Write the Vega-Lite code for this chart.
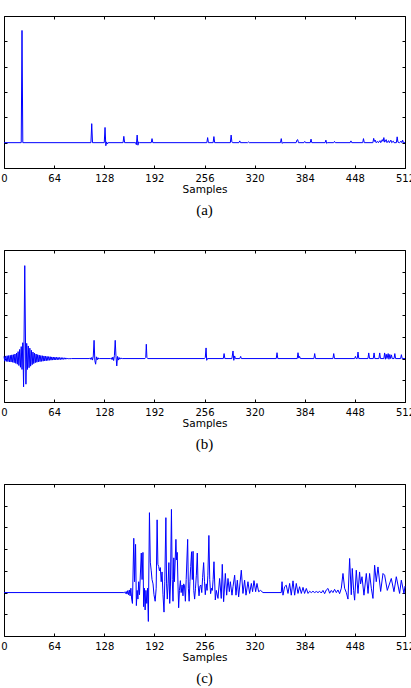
{
  "$schema": "https://vega.github.io/schema/vega-lite/v6.json",
  "background": "white",
  "autosize": {"type": "pad"},
  "padding": {"left": 0, "top": 15, "right": 0, "bottom": 0},
  "bounds": "flush",
  "spacing": 82,
  "config": {
    "view": {"stroke": "#000000", "strokeWidth": 1},
    "axis": {
      "domain": false,
      "grid": false,
      "minExtent": 0,
      "tickSize": -3,
      "tickColor": "#000000",
      "tickWidth": 1,
      "labelFont": "DejaVu Sans",
      "labelFontSize": 10,
      "labelColor": "#000000",
      "labelPadding": 8.7,
      "labelFlush": false,
      "labelOverlap": false,
      "titleFont": "DejaVu Sans",
      "titleFontSize": 10.5,
      "titleFontWeight": "normal",
      "titleColor": "#000000",
      "titlePadding": 0.5
    },
    "title": {
      "font": "Liberation Serif",
      "fontSize": 15,
      "fontWeight": "normal",
      "color": "#000000",
      "orient": "bottom",
      "anchor": "middle",
      "offset": 8
    },
    "line": {"color": "#0000ff", "strokeWidth": 1, "clip": true}
  },
  "datasets": {
    "a": [
      {"s": 0, "v": 0}, {"s": 22, "v": 0}, {"s": 23, "v": 4.43}, {"s": 24, "v": 0},
      {"s": 111, "v": 0}, {"s": 112, "v": 0.75}, {"s": 113, "v": 0},
      {"s": 128, "v": 0}, {"s": 129, "v": 0.6}, {"s": 130, "v": -0.12}, {"s": 131, "v": 0.03}, {"s": 132, "v": -0.05}, {"s": 133, "v": 0},
      {"s": 152, "v": 0}, {"s": 153, "v": 0.25}, {"s": 154, "v": 0},
      {"s": 168, "v": 0}, {"s": 169, "v": -0.08}, {"s": 170, "v": 0.3}, {"s": 171, "v": -0.1}, {"s": 172, "v": 0.03}, {"s": 173, "v": 0},
      {"s": 188, "v": 0}, {"s": 189, "v": 0.16}, {"s": 190, "v": 0},
      {"s": 259, "v": 0}, {"s": 260, "v": 0.2}, {"s": 261, "v": 0}, {"s": 267, "v": 0}, {"s": 268, "v": 0.24}, {"s": 269, "v": 0},
      {"s": 289, "v": 0}, {"s": 290, "v": 0.3}, {"s": 291, "v": 0.02}, {"s": 292, "v": 0},
      {"s": 300, "v": 0}, {"s": 301, "v": 0.07}, {"s": 302, "v": 0}, {"s": 311, "v": 0}, {"s": 312, "v": 0.03}, {"s": 313, "v": 0},
      {"s": 353, "v": 0}, {"s": 354, "v": 0.16}, {"s": 355, "v": -0.03}, {"s": 356, "v": 0},
      {"s": 373, "v": 0}, {"s": 374, "v": 0.1}, {"s": 375, "v": 0.12}, {"s": 376, "v": 0},
      {"s": 383, "v": 0}, {"s": 384, "v": 0.05}, {"s": 385, "v": 0},
      {"s": 391, "v": 0}, {"s": 392, "v": 0.14}, {"s": 393, "v": 0},
      {"s": 410, "v": 0}, {"s": 411, "v": 0.1}, {"s": 412, "v": -0.03}, {"s": 413, "v": 0},
      {"s": 421, "v": 0}, {"s": 422, "v": 0.05}, {"s": 423, "v": 0},
      {"s": 442, "v": 0}, {"s": 443, "v": 0.07}, {"s": 444, "v": 0},
      {"s": 458, "v": 0}, {"s": 459, "v": 0.16}, {"s": 460, "v": 0},
      {"s": 471, "v": 0}, {"s": 472, "v": 0.17}, {"s": 473, "v": 0.05}, {"s": 474, "v": 0.1}, {"s": 475, "v": 0},
      {"s": 477, "v": 0.05}, {"s": 478, "v": 0}, {"s": 480, "v": 0.08}, {"s": 481, "v": 0},
      {"s": 483, "v": 0.12}, {"s": 484, "v": 0.05}, {"s": 485, "v": 0.2}, {"s": 486, "v": 0.02},
      {"s": 488, "v": 0.12}, {"s": 489, "v": 0}, {"s": 491, "v": 0.08}, {"s": 492, "v": 0},
      {"s": 494, "v": 0.1}, {"s": 495, "v": 0}, {"s": 497, "v": 0.06}, {"s": 498, "v": 0},
      {"s": 501, "v": 0}, {"s": 502, "v": 0.23}, {"s": 503, "v": 0.02}, {"s": 505, "v": 0},
      {"s": 507, "v": 0.06}, {"s": 508, "v": 0}, {"s": 509, "v": 0.1}, {"s": 510, "v": 0}, {"s": 512, "v": 0}
    ],
    "b": [
      {"s": 0, "v": 0.1}, {"s": 1, "v": -0.12}, {"s": 2, "v": 0.12}, {"s": 3, "v": -0.13}, {"s": 4, "v": 0.13},
      {"s": 5, "v": -0.14}, {"s": 6, "v": 0.14}, {"s": 7, "v": -0.15}, {"s": 8, "v": 0.15}, {"s": 9, "v": -0.16},
      {"s": 10, "v": 0.17}, {"s": 11, "v": -0.17}, {"s": 12, "v": 0.18}, {"s": 13, "v": -0.19}, {"s": 14, "v": 0.21},
      {"s": 15, "v": -0.22}, {"s": 16, "v": 0.25}, {"s": 17, "v": -0.26}, {"s": 18, "v": 0.32}, {"s": 19, "v": -0.32},
      {"s": 20, "v": 0.42}, {"s": 21, "v": -0.4}, {"s": 22, "v": 0.55}, {"s": 23, "v": -0.5}, {"s": 24, "v": 0.73},
      {"s": 25, "v": -1.3}, {"s": 26.5, "v": 4.28}, {"s": 28, "v": -1.18}, {"s": 29, "v": 0.7}, {"s": 30, "v": -0.5},
      {"s": 31, "v": 0.58}, {"s": 32, "v": -0.42}, {"s": 33, "v": 0.48}, {"s": 34, "v": -0.35}, {"s": 35, "v": 0.38},
      {"s": 36, "v": -0.28}, {"s": 37, "v": 0.3}, {"s": 38, "v": -0.23}, {"s": 39, "v": 0.25}, {"s": 40, "v": -0.19},
      {"s": 41, "v": 0.21}, {"s": 42, "v": -0.17}, {"s": 43, "v": 0.18}, {"s": 44, "v": -0.15}, {"s": 45, "v": 0.16},
      {"s": 46, "v": -0.14}, {"s": 47, "v": 0.14}, {"s": 48, "v": -0.13}, {"s": 49, "v": 0.13}, {"s": 50, "v": -0.12},
      {"s": 51, "v": 0.12}, {"s": 52, "v": -0.11}, {"s": 53, "v": 0.11}, {"s": 54, "v": -0.1}, {"s": 55, "v": 0.1},
      {"s": 56, "v": -0.09}, {"s": 57, "v": 0.09}, {"s": 58, "v": -0.08}, {"s": 59, "v": 0.085}, {"s": 60, "v": -0.075},
      {"s": 61, "v": 0.075}, {"s": 62, "v": -0.07}, {"s": 63, "v": 0.07}, {"s": 64, "v": -0.065}, {"s": 65, "v": 0.065},
      {"s": 66, "v": -0.06}, {"s": 67, "v": 0.06}, {"s": 68, "v": -0.055}, {"s": 69, "v": 0.055}, {"s": 70, "v": -0.05},
      {"s": 71, "v": 0.05}, {"s": 72, "v": -0.045}, {"s": 73, "v": 0.045}, {"s": 74, "v": -0.04}, {"s": 75, "v": 0.04},
      {"s": 76, "v": -0.035}, {"s": 77, "v": 0.035}, {"s": 78, "v": -0.03}, {"s": 79, "v": 0.03}, {"s": 80, "v": -0.025},
      {"s": 81, "v": 0.025}, {"s": 82, "v": -0.02}, {"s": 83, "v": 0.015}, {"s": 84, "v": -0.01}, {"s": 86, "v": 0},
      {"s": 109, "v": 0}, {"s": 110, "v": 0.03}, {"s": 111, "v": -0.04}, {"s": 112, "v": 0.05}, {"s": 113, "v": -0.07},
      {"s": 114, "v": 0.12}, {"s": 115, "v": 0.84}, {"s": 116, "v": -0.1}, {"s": 117, "v": -0.26}, {"s": 118, "v": 0.08},
      {"s": 119, "v": -0.06}, {"s": 120, "v": 0.04}, {"s": 121, "v": -0.02}, {"s": 122, "v": 0},
      {"s": 136, "v": 0}, {"s": 137, "v": 0.03}, {"s": 138, "v": -0.05}, {"s": 139, "v": 0.07}, {"s": 140, "v": -0.09},
      {"s": 141, "v": 0.15}, {"s": 142, "v": 0.84}, {"s": 143, "v": 0.1}, {"s": 144, "v": -0.34}, {"s": 145, "v": 0.1},
      {"s": 146, "v": -0.07}, {"s": 147, "v": 0.05}, {"s": 148, "v": -0.03}, {"s": 149, "v": 0.02}, {"s": 151, "v": 0},
      {"s": 180, "v": 0}, {"s": 181, "v": 0.05}, {"s": 181.7, "v": 0.66}, {"s": 182.5, "v": 0.05}, {"s": 183.5, "v": 0},
      {"s": 256, "v": 0}, {"s": 257, "v": 0.05}, {"s": 258, "v": 0.49}, {"s": 258.8, "v": -0.08}, {"s": 259.8, "v": 0},
      {"s": 280, "v": 0}, {"s": 281, "v": 0.23}, {"s": 282, "v": 0},
      {"s": 291, "v": 0}, {"s": 292.4, "v": 0.35}, {"s": 293.4, "v": -0.08}, {"s": 294.5, "v": 0.12}, {"s": 295.5, "v": 0},
      {"s": 301, "v": 0}, {"s": 302.2, "v": 0.1}, {"s": 303, "v": 0},
      {"s": 347.6, "v": 0}, {"s": 348.6, "v": 0.27}, {"s": 349.6, "v": 0},
      {"s": 374.4, "v": 0}, {"s": 375.4, "v": 0.27}, {"s": 376.4, "v": 0.02}, {"s": 377.4, "v": 0.1}, {"s": 378.4, "v": 0},
      {"s": 395.7, "v": 0}, {"s": 396.7, "v": 0.23}, {"s": 397.7, "v": 0},
      {"s": 420, "v": 0}, {"s": 421, "v": 0.23}, {"s": 422, "v": 0},
      {"s": 447.7, "v": 0}, {"s": 448.7, "v": 0.1}, {"s": 449.6, "v": 0}, {"s": 451, "v": 0}, {"s": 452, "v": 0.3}, {"s": 453, "v": 0},
      {"s": 464.7, "v": 0}, {"s": 465.7, "v": 0.26}, {"s": 466.7, "v": 0},
      {"s": 471.5, "v": 0}, {"s": 472.5, "v": 0.26}, {"s": 473.5, "v": 0},
      {"s": 478.7, "v": 0}, {"s": 479.7, "v": 0.26}, {"s": 480.7, "v": 0},
      {"s": 485, "v": 0}, {"s": 486, "v": 0.26}, {"s": 487, "v": -0.03}, {"s": 488, "v": 0.2}, {"s": 489, "v": 0},
      {"s": 490.5, "v": 0.23}, {"s": 491.5, "v": -0.03}, {"s": 492.6, "v": 0.19}, {"s": 493.6, "v": 0},
      {"s": 494.7, "v": 0.17}, {"s": 495.7, "v": 0},
      {"s": 498, "v": 0}, {"s": 499, "v": 0.23}, {"s": 500, "v": 0},
      {"s": 506.4, "v": 0}, {"s": 507.4, "v": 0.18}, {"s": 508.4, "v": 0}, {"s": 512, "v": 0}
    ],
    "c": [
      {"s": 0, "v": 0}, {"s": 153, "v": 0}, {"s": 154, "v": 0.02}, {"s": 155, "v": -0.04}, {"s": 156, "v": 0.05},
      {"s": 157, "v": -0.07}, {"s": 158, "v": 0.09}, {"s": 159, "v": -0.1}, {"s": 160, "v": 0.12}, {"s": 161, "v": -0.15},
      {"s": 162, "v": 0.2}, {"s": 163, "v": -0.3}, {"s": 164, "v": -0.5}, {"s": 165.7, "v": 2.5}, {"s": 166.7, "v": 0.5},
      {"s": 168, "v": 2.22}, {"s": 169, "v": -0.6}, {"s": 170, "v": 0.1}, {"s": 171, "v": -0.3}, {"s": 172, "v": 0.5},
      {"s": 173, "v": -0.1}, {"s": 175.3, "v": 1.82}, {"s": 176.3, "v": 0.6}, {"s": 177.4, "v": 1.85}, {"s": 178.3, "v": -0.65},
      {"s": 179.3, "v": 0.2}, {"s": 180.2, "v": -0.8}, {"s": 181.2, "v": 0.1}, {"s": 182.3, "v": -0.5}, {"s": 183.3, "v": 0.2},
      {"s": 184.3, "v": -1.33}, {"s": 185.7, "v": 3.68}, {"s": 186.8, "v": 1.4}, {"s": 188, "v": 1.0}, {"s": 189, "v": 0.6},
      {"s": 190.3, "v": 0.4}, {"s": 191.5, "v": -0.1}, {"s": 193, "v": -0.4}, {"s": 194.3, "v": 0.2}, {"s": 195.5, "v": 3.35},
      {"s": 196.5, "v": 1.3}, {"s": 197.5, "v": 1.2}, {"s": 198.5, "v": 1.0}, {"s": 199.6, "v": 1.15}, {"s": 200.7, "v": 0.5},
      {"s": 201.8, "v": 0.95}, {"s": 203, "v": -0.1}, {"s": 204.3, "v": -0.9}, {"s": 205.3, "v": 0.5}, {"s": 206.7, "v": 3.45},
      {"s": 207.6, "v": 0.4}, {"s": 208.5, "v": -0.3}, {"s": 209.5, "v": 0.4}, {"s": 210.5, "v": 1.38}, {"s": 211.6, "v": -0.5},
      {"s": 212.5, "v": 0.3}, {"s": 213.8, "v": 3.83}, {"s": 214.8, "v": 0.6}, {"s": 215.8, "v": -0.4}, {"s": 216.8, "v": 1.6},
      {"s": 217.6, "v": 0.5}, {"s": 219.5, "v": 2.45}, {"s": 220.3, "v": 1.5}, {"s": 221.2, "v": 1.85}, {"s": 222.2, "v": 0.3},
      {"s": 223, "v": -0.7}, {"s": 224, "v": 0.1}, {"s": 225.2, "v": 0.55}, {"s": 226.2, "v": 0.0}, {"s": 227.4, "v": 0.35},
      {"s": 228.5, "v": -0.15}, {"s": 229.4, "v": 0.4}, {"s": 230.5, "v": 0.3}, {"s": 231.6, "v": -0.4}, {"s": 232.6, "v": 0.6},
      {"s": 234.5, "v": 2.45}, {"s": 235.4, "v": 0.2}, {"s": 236.4, "v": -0.4}, {"s": 237.4, "v": 0.5}, {"s": 238.4, "v": 1.2},
      {"s": 239.5, "v": 1.88}, {"s": 240.4, "v": 0.6}, {"s": 241.4, "v": 1.9}, {"s": 242.3, "v": 0.1}, {"s": 243.4, "v": -0.3},
      {"s": 244.5, "v": 0.2}, {"s": 245.6, "v": 0.8}, {"s": 246.8, "v": 1.82}, {"s": 247.8, "v": 0.4}, {"s": 249, "v": -0.15},
      {"s": 250.2, "v": 0.3}, {"s": 251.4, "v": 0.35}, {"s": 252.5, "v": 0.0}, {"s": 253.6, "v": 0.7}, {"s": 254.9, "v": 1.38},
      {"s": 256, "v": 0.5}, {"s": 257, "v": -0.1}, {"s": 258.2, "v": 0.4}, {"s": 259.3, "v": 0.1}, {"s": 260.3, "v": 0.8},
      {"s": 261.6, "v": 2.63}, {"s": 262.7, "v": 0.6}, {"s": 263.8, "v": -0.05}, {"s": 265, "v": 0.2}, {"s": 266, "v": 0.1},
      {"s": 267, "v": 0.6}, {"s": 268.1, "v": 1.42}, {"s": 269.8, "v": -0.34}, {"s": 271.1, "v": 0.1}, {"s": 273.2, "v": -0.27},
      {"s": 275.3, "v": 0.65}, {"s": 277.4, "v": -0.27}, {"s": 278.7, "v": 1.3}, {"s": 280.4, "v": -0.42}, {"s": 282.6, "v": 0.88},
      {"s": 284.3, "v": -0.12}, {"s": 286, "v": 0.65}, {"s": 287.7, "v": 0.04}, {"s": 289, "v": 0.5}, {"s": 291.1, "v": -0.12},
      {"s": 292.4, "v": 0.27}, {"s": 294.5, "v": 0.8}, {"s": 296.2, "v": -0.12}, {"s": 297.9, "v": 0.57}, {"s": 299.6, "v": -0.2},
      {"s": 303, "v": 1.03}, {"s": 305.1, "v": -0.04}, {"s": 307.2, "v": 0.57}, {"s": 309, "v": -0.12}, {"s": 311.5, "v": 0.5},
      {"s": 313.6, "v": -0.04}, {"s": 315.8, "v": 0.42}, {"s": 317.4, "v": 0.04}, {"s": 319.2, "v": 0.55}, {"s": 321.3, "v": 0.04},
      {"s": 323, "v": 0.42}, {"s": 325.1, "v": 0.04}, {"s": 327.6, "v": 0.1}, {"s": 330.7, "v": 0}, {"s": 354, "v": 0},
      {"s": 355, "v": 0.5}, {"s": 356.2, "v": -0.12}, {"s": 358.3, "v": 0.27}, {"s": 360.4, "v": 0.34}, {"s": 362.6, "v": -0.04},
      {"s": 364.7, "v": 0.42}, {"s": 366.8, "v": -0.12}, {"s": 369, "v": 0.54}, {"s": 371.1, "v": -0.12}, {"s": 373.2, "v": 0.42},
      {"s": 375.4, "v": -0.04}, {"s": 377.4, "v": 0.27}, {"s": 379.6, "v": -0.04}, {"s": 381.8, "v": 0.24}, {"s": 383.8, "v": -0.04},
      {"s": 386, "v": 0.19}, {"s": 388.2, "v": -0.04}, {"s": 390.2, "v": 0.06}, {"s": 392.4, "v": 0.0}, {"s": 394.5, "v": 0.06},
      {"s": 396.6, "v": 0.0}, {"s": 398.8, "v": 0.05}, {"s": 400.9, "v": 0.0}, {"s": 403, "v": 0.06}, {"s": 405.1, "v": -0.02},
      {"s": 407.3, "v": 0.1}, {"s": 409.4, "v": -0.05}, {"s": 411.5, "v": 0.12}, {"s": 413.7, "v": 0.19}, {"s": 415.8, "v": -0.03},
      {"s": 417.9, "v": 0.1}, {"s": 420, "v": 0.0}, {"s": 422.1, "v": 0.15}, {"s": 424.3, "v": 0.0}, {"s": 426.4, "v": 0.12},
      {"s": 428.5, "v": -0.05}, {"s": 430.7, "v": 0.2}, {"s": 432.8, "v": 0.88}, {"s": 434.9, "v": 0.2}, {"s": 437.1, "v": 0.0},
      {"s": 439.2, "v": -0.3}, {"s": 441.3, "v": 1.57}, {"s": 443.4, "v": -0.1}, {"s": 444.7, "v": 1.11}, {"s": 446.4, "v": 0.1},
      {"s": 447.7, "v": -0.35}, {"s": 449.8, "v": 1.03}, {"s": 452, "v": -0.04}, {"s": 454, "v": 0.95}, {"s": 455.3, "v": 0.4},
      {"s": 457.1, "v": 0.73}, {"s": 459.6, "v": -0.12}, {"s": 462.6, "v": 0.88}, {"s": 464.8, "v": -0.04}, {"s": 466.8, "v": 0.88},
      {"s": 469, "v": 0.2}, {"s": 471.1, "v": -0.27}, {"s": 473.2, "v": 1.26}, {"s": 475.3, "v": 0.5}, {"s": 477.5, "v": 1.18},
      {"s": 480.9, "v": 0.05}, {"s": 483.9, "v": 0.88}, {"s": 486, "v": 0.8}, {"s": 489.4, "v": 0.1}, {"s": 494.5, "v": 0.65},
      {"s": 497.9, "v": 0.04}, {"s": 500.9, "v": 0.73}, {"s": 505.1, "v": -0.04}, {"s": 507.3, "v": 0.57}, {"s": 510.7, "v": -0.04},
      {"s": 512, "v": 0.3}
    ]
  },
  "vconcat": [
    {
      "width": 401,
      "height": 152,
      "title": {"text": "(a)"},
      "data": {"name": "a"},
      "layer": [
        {
          "mark": {"type": "line"},
          "encoding": {
            "x": {"field": "s", "type": "quantitative", "scale": {"domain": [0, 512], "nice": false},
                  "axis": {"orient": "bottom", "values": [0, 64, 128, 192, 256, 320, 384, 448, 512], "title": "Samples"}},
            "y": {"field": "v", "type": "quantitative", "scale": {"domain": [-1, 5], "nice": false, "zero": false},
                  "axis": {"orient": "left", "values": [-1, 0, 1, 2, 3, 4, 5], "labels": false, "title": null}}
          }
        },
        {
          "mark": {"type": "line", "opacity": 0},
          "encoding": {
            "x": {"field": "s", "type": "quantitative",
                  "axis": {"orient": "top", "values": [0, 64, 128, 192, 256, 320, 384, 448, 512], "labels": false, "title": null}},
            "y": {"field": "v", "type": "quantitative",
                  "axis": {"orient": "right", "values": [-1, 0, 1, 2, 3, 4, 5], "labels": false, "title": null}}
          }
        }
      ],
      "resolve": {"axis": {"x": "independent", "y": "independent"}}
    },
    {
      "width": 401,
      "height": 152,
      "title": {"text": "(b)"},
      "data": {"name": "b"},
      "layer": [
        {
          "mark": {"type": "line"},
          "encoding": {
            "x": {"field": "s", "type": "quantitative", "scale": {"domain": [0, 512], "nice": false},
                  "axis": {"orient": "bottom", "values": [0, 64, 128, 192, 256, 320, 384, 448, 512], "title": "Samples"}},
            "y": {"field": "v", "type": "quantitative", "scale": {"domain": [-2, 5], "nice": false, "zero": false},
                  "axis": {"orient": "left", "values": [-2, -1, 0, 1, 2, 3, 4, 5], "labels": false, "title": null}}
          }
        },
        {
          "mark": {"type": "line", "opacity": 0},
          "encoding": {
            "x": {"field": "s", "type": "quantitative",
                  "axis": {"orient": "top", "values": [0, 64, 128, 192, 256, 320, 384, 448, 512], "labels": false, "title": null}},
            "y": {"field": "v", "type": "quantitative",
                  "axis": {"orient": "right", "values": [-2, -1, 0, 1, 2, 3, 4, 5], "labels": false, "title": null}}
          }
        }
      ],
      "resolve": {"axis": {"x": "independent", "y": "independent"}}
    },
    {
      "width": 401,
      "height": 152,
      "title": {"text": "(c)"},
      "data": {"name": "c"},
      "layer": [
        {
          "mark": {"type": "line"},
          "encoding": {
            "x": {"field": "s", "type": "quantitative", "scale": {"domain": [0, 512], "nice": false},
                  "axis": {"orient": "bottom", "values": [0, 64, 128, 192, 256, 320, 384, 448, 512], "title": "Samples"}},
            "y": {"field": "v", "type": "quantitative", "scale": {"domain": [-2, 5], "nice": false, "zero": false},
                  "axis": {"orient": "left", "values": [-2, -1, 0, 1, 2, 3, 4, 5], "labels": false, "title": null}}
          }
        },
        {
          "mark": {"type": "line", "opacity": 0},
          "encoding": {
            "x": {"field": "s", "type": "quantitative",
                  "axis": {"orient": "top", "values": [0, 64, 128, 192, 256, 320, 384, 448, 512], "labels": false, "title": null}},
            "y": {"field": "v", "type": "quantitative",
                  "axis": {"orient": "right", "values": [-2, -1, 0, 1, 2, 3, 4, 5], "labels": false, "title": null}}
          }
        }
      ],
      "resolve": {"axis": {"x": "independent", "y": "independent"}}
    }
  ]
}
